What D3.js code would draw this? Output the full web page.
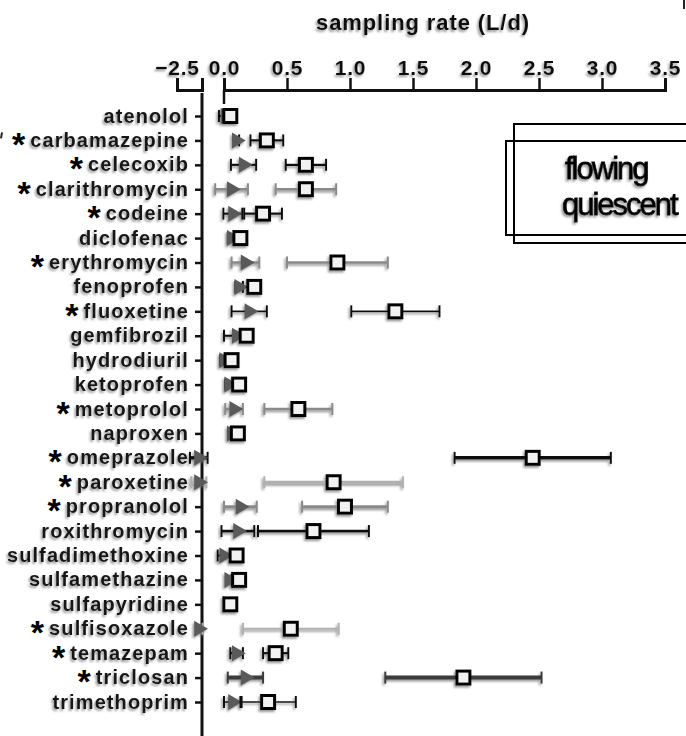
<!DOCTYPE html>
<html>
<head>
<meta charset="utf-8">
<script src="https://cdn.jsdelivr.net/npm/d3@7"></script>
<style>
  body { margin: 0; background: #fff; }
  text { font-family: "Liberation Sans", Arial, sans-serif; }
</style>
</head>
<body>
<div id="chart"></div>
<script>
// compounds, top to bottom
const compounds = ["atenolol", "carbamazepine", "celecoxib", "clarithromycin", "codeine",
  "diclofenac", "erythromycin", "fenoprofen", "fluoxetine", "gemfibrozil", "hydrodiuril",
  "ketoprofen", "metoprolol", "naproxen", "omeprazole", "paroxetine", "propranolol",
  "roxithromycin", "sulfadimethoxine", "sulfamethazine", "sulfapyridine", "sulfisoxazole",
  "temazepam", "triclosan", "trimethoprim"];

// compounds marked with *
const starred = ["carbamazepine", "celecoxib", "clarithromycin", "codeine", "erythromycin",
  "fluoxetine", "metoprolol", "omeprazole", "paroxetine", "propranolol", "sulfisoxazole",
  "temazepam", "triclosan"];

// sampling rate (L/d), mean and error
const flowingMean = [0.01, 0.10, 0.155, 0.06, 0.07, 0.06, 0.17, 0.12, 0.20, 0.10, 0.00,
  0.04, 0.08, 0.06, -0.20, -0.20, 0.13, 0.11, 0.00, 0.04, 0.03, -0.20, 0.10, 0.17, 0.07];
const flowingErr = [0.05, 0.02, 0.10, 0.13, 0.075, 0.03, 0.11, 0.03, 0.14, 0.10, 0.03,
  0.03, 0.07, 0.02, 0.07, 0.06, 0.13, 0.13, 0.05, 0.02, 0.02, 0.03, 0.05, 0.14, 0.07];
const quiescentMean = [0.05, 0.34, 0.65, 0.65, 0.31, 0.13, 0.90, 0.24, 1.36, 0.18, 0.06,
  0.12, 0.59, 0.11, 2.45, 0.87, 0.96, 0.71, 0.10, 0.12, 0.05, 0.53, 0.41, 1.90, 0.35];
const quiescentErr = [0.03, 0.13, 0.16, 0.24, 0.15, 0.03, 0.40, 0.04, 0.35, 0.04, 0.03,
  0.03, 0.27, 0.03, 0.62, 0.55, 0.34, 0.44, 0.03, 0.03, 0.03, 0.38, 0.10, 0.62, 0.22];

const xTicks = [0, 0.5, 1, 1.5, 2, 2.5, 3, 3.5];
const brokenTicks = [-2.5];

// error bar look per compound (colour, width)
const barStyle = {
  clarithromycin: ["#8a8a8a", 2.5], erythromycin: ["#8a8a8a", 2.5], metoprolol: ["#8a8a8a", 2.5],
  propranolol: ["#8a8a8a", 3], paroxetine: ["#b0b0b0", 3], sulfisoxazole: ["#b0b0b0", 1.8],
  omeprazole: ["#111", 3.5], roxithromycin: ["#111", 2.8], triclosan: ["#3a3a3a", 4],
  fluoxetine: ["#111", 1.6], trimethoprim: ["#111", 1.6]
};
const styleOf = n => barStyle[n] || ["#111", 2.2];

const w = 686, h = 736;

const svg = d3.select("#chart").append("svg")
  .attr("width", w).attr("height", h);

// soft grey drop shadow like the scanned figure
const defs = svg.append("defs");
defs.append("filter").attr("id", "shadow")
  .attr("x", "-20%").attr("y", "-20%").attr("width", "140%").attr("height", "160%")
  .append("feDropShadow")
  .attr("dx", -1.5).attr("dy", 2).attr("stdDeviation", 0.9)
  .attr("flood-color", "#777").attr("flood-opacity", 0.75);

// scales
const x = d3.scaleLinear().domain([0, 3.5]).range([224, 665]);
const xBroken = d3.scaleLinear().domain([-2.5, -2.3]).range([177, 202]);
const y = d3.scalePoint().domain(compounds).range([116, 702]);

// title
svg.append("text")
  .attr("x", 423).attr("y", 30)
  .attr("text-anchor", "middle")
  .attr("font-size", 22).attr("font-weight", "bold")
  .attr("letter-spacing", 0.9)
  .attr("fill", "#111")
  .attr("filter", "url(#shadow)")
  .text("sampling rate (L/d)");

// top axes
function styleAxis(g) {
  g.select(".domain").attr("stroke", "#111").attr("stroke-width", 3);
  g.selectAll(".tick line").attr("stroke", "#111").attr("stroke-width", 2.5);
  g.selectAll(".tick text")
    .attr("font-size", 21).attr("font-weight", "bold")
    .attr("font-family", "Liberation Sans, Arial, sans-serif")
    .attr("letter-spacing", 0.8)
    .attr("fill", "#111")
    .attr("filter", "url(#shadow)");
}

svg.append("g")
  .attr("transform", "translate(0,90)")
  .call(d3.axisTop(x).tickValues(xTicks).tickFormat(d3.format(".1f"))
    .tickSize(12).tickSizeOuter(12).tickPadding(3))
  .call(styleAxis);

svg.append("g")
  .attr("transform", "translate(0,90)")
  .call(d3.axisTop(xBroken).tickValues(brokenTicks).tickFormat(d3.format(".1f"))
    .tickSize(12).tickSizeOuter(12).tickPadding(3))
  .call(styleAxis);

// little downward stub at 0.0
svg.append("line")
  .attr("x1", x(0)).attr("x2", x(0)).attr("y1", 90).attr("y2", 104)
  .attr("stroke", "#111").attr("stroke-width", 2.5);

// left axis: vertical line + ticks + compound labels
svg.append("line")
  .attr("x1", 202).attr("x2", 202).attr("y1", 93).attr("y2", h)
  .attr("stroke", "#111").attr("stroke-width", 3);

const yAxis = svg.append("g")
  .attr("transform", "translate(202,0)")
  .call(d3.axisLeft(y).tickSize(7).tickSizeOuter(0).tickPadding(6));
yAxis.select(".domain").remove();
yAxis.selectAll(".tick line").attr("stroke", "#111").attr("stroke-width", 2.5);
yAxis.selectAll(".tick text")
  .attr("font-size", 20).attr("font-weight", "bold")
  .attr("font-family", "Liberation Sans, Arial, sans-serif")
  .attr("letter-spacing", 1.1)
  .attr("fill", "#151515")
  .attr("dy", "0.3em")
  .attr("filter", "url(#shadow)");

// asterisks in front of the marked names
yAxis.selectAll(".tick").each(function(d) {
  if (!starred.includes(d)) return;
  const t = d3.select(this).select("text").node();
  const bb = t.getBBox();
  d3.select(this).append("text")
    .attr("x", bb.x - 5)
    .attr("y", 15)
    .attr("text-anchor", "end")
    .attr("font-size", 34).attr("font-weight", "bold")
    .attr("font-family", "Liberation Sans, Arial, sans-serif")
    .attr("fill", "#000")
    .text("*");
});

// stray mark at far left of carbamazepine row
svg.append("line")
  .attr("x1", 2).attr("x2", 1).attr("y1", y("carbamazepine") - 8).attr("y2", y("carbamazepine") - 2)
  .attr("stroke", "#222").attr("stroke-width", 2);

// error bars
const rows = compounds.map((n, i) => ({
  name: n,
  fm: flowingMean[i], fe: flowingErr[i],
  qm: quiescentMean[i], qe: quiescentErr[i]
}));

function errorBars(g, mean, err) {
  const cap = 6;
  g.append("line")
    .attr("x1", d => x(d[mean] - d[err])).attr("x2", d => x(d[mean] + d[err]))
    .attr("y1", d => y(d.name)).attr("y2", d => y(d.name))
    .attr("stroke", d => styleOf(d.name)[0])
    .attr("stroke-width", d => styleOf(d.name)[1]);
  [-1, 1].forEach(s => {
    g.append("line")
      .attr("x1", d => x(d[mean] + s * d[err])).attr("x2", d => x(d[mean] + s * d[err]))
      .attr("y1", d => y(d.name) - cap).attr("y2", d => y(d.name) + cap)
      .attr("stroke", d => styleOf(d.name)[0])
      .attr("stroke-width", 2);
  });
}

const plot = svg.append("g").attr("filter", "url(#shadow)");

// flowing: grey right-pointing triangles
const flow = plot.append("g").selectAll("g").data(rows).join("g");
errorBars(flow, "fm", "fe");
flow.append("path")
  .attr("d", d3.symbol(d3.symbolTriangle, 110))
  .attr("transform", d => `translate(${x(d.fm)},${y(d.name)}) rotate(90)`)
  .attr("fill", "#5a5a5a");

// quiescent: open squares
const qui = plot.append("g").selectAll("g").data(rows).join("g");
errorBars(qui, "qm", "qe");
qui.append("rect")
  .attr("x", d => x(d.qm) - 6.5).attr("y", d => y(d.name) - 6.5)
  .attr("width", 13).attr("height", 13)
  .attr("fill", "#f2f2f2")
  .attr("stroke", "#000").attr("stroke-width", 3);

// legend (clipped boxes at the right edge)
const legend = svg.append("g");
legend.append("rect")
  .attr("x", 514).attr("y", 124).attr("width", 200).attr("height", 119)
  .attr("fill", "none").attr("stroke", "#000").attr("stroke-width", 2);
legend.append("rect")
  .attr("x", 506).attr("y", 141).attr("width", 200).attr("height", 94)
  .attr("fill", "none").attr("stroke", "#000").attr("stroke-width", 2);
legend.selectAll("text.lg")
  .data([["flowing", 565, 179], ["quiescent", 562, 215]])
  .join("text")
  .attr("class", "lg")
  .attr("x", d => d[1]).attr("y", d => d[2])
  .attr("font-size", 31)
  .attr("letter-spacing", -2)
  .attr("fill", "#000").attr("stroke", "#000").attr("stroke-width", 0.8)
  .attr("filter", "url(#shadow)")
  .text(d => d[0]);

// small mark at top right corner
svg.append("line")
  .attr("x1", 684).attr("x2", 684).attr("y1", 0).attr("y2", 9)
  .attr("stroke", "#222").attr("stroke-width", 2);
</script>
</body>
</html>
